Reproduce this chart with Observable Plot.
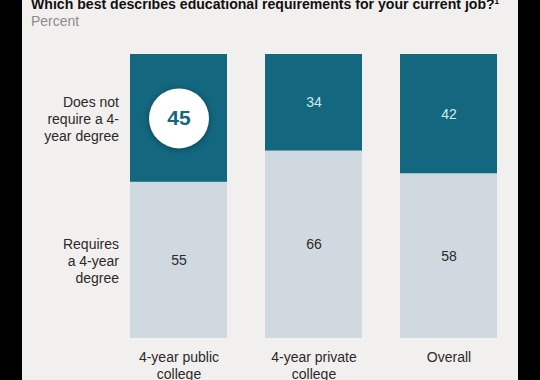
<!DOCTYPE html>
<html>
<head>
<meta charset="utf-8">
<script src="https://cdn.jsdelivr.net/npm/d3@7"></script>
<script src="https://cdn.jsdelivr.net/npm/@observablehq/plot@0.6"></script>
<style>
  html, body { margin: 0; padding: 0; background: #000; width: 540px; height: 380px; overflow: hidden; }
  #panel { position: absolute; left: 22px; top: 0; width: 496px; height: 380px; background: #f1f0ee; overflow: hidden;
           font-family: "Liberation Sans", Arial, Helvetica, sans-serif; }
  #title { position: absolute; left: 9px; top: -4px; font-size: 14.1px; line-height: 16px; font-weight: bold; color: #111; white-space: nowrap; }
  #subtitle { position: absolute; left: 9px; top: 13px; font-size: 14px; line-height: 16px; color: #8c8c8c; }
  #chart { position: absolute; left: 0; top: 30px; }
  .hl circle { filter: drop-shadow(0 1px 3px rgba(0,0,0,0.35)); }
</style>
</head>
<body>
<div id="panel">
  <div id="title">Which best describes educational requirements for your current job?¹</div>
  <div id="subtitle">Percent</div>
  <div id="chart"></div>
</div>
<script>
const categories = ["4-year public college", "4-year private college", "Overall"];
const categoryLabels = ["4-year public\ncollege", "4-year private\ncollege", "Overall"];
const seriesNames = ["Requires a 4-year degree", "Does not require a 4-year degree"];
const seriesLabels = ["Requires\na 4-year\ndegree", "Does not\nrequire a 4-\nyear degree"];
const requiresDegree = [55, 66, 58];
const doesNotRequire = [45, 34, 42];
const highlightCategory = "4-year public college";

const DARK = "#13677f";
const LIGHT = "#cfd9df";

const rows = [];
categories.forEach((c, i) => {
  rows.push({category: c, series: seriesNames[0], value: requiresDegree[i], y1: 0, y2: requiresDegree[i]});
  rows.push({category: c, series: seriesNames[1], value: doesNotRequire[i], y1: requiresDegree[i], y2: requiresDegree[i] + doesNotRequire[i]});
});
rows.forEach(d => d.mid = (d.y1 + d.y2) / 2);

const isHighlight = d => d.category === highlightCategory && d.series === seriesNames[1];
const plainLabels = rows.filter(d => !isHighlight(d));
const highlightRows = rows.filter(isHighlight);
const sideLabels = rows.filter(d => d.category === categories[0]).map(d => ({...d, label: seriesLabels[seriesNames.indexOf(d.series)]}));

const chart = Plot.plot({
  width: 496,
  height: 350,
  marginTop: 24,
  marginBottom: 42,
  marginLeft: 108,
  marginRight: 21,
  style: {background: "transparent", fontFamily: "'Liberation Sans', Arial, Helvetica, sans-serif", fontSize: "14px", color: "#222"},
  x: {domain: categories, paddingInner: 0.285, paddingOuter: 0},
  y: {domain: [0, 100], axis: null},
  color: {domain: seriesNames, range: [LIGHT, DARK]},
  marks: [
    Plot.barY(rows, {x: "category", y1: "y1", y2: "y2", fill: "series"}),
    Plot.text(plainLabels, {
      x: "category", y: "mid", text: d => String(d.value), fontSize: 14,
      fill: d => d.series === seriesNames[1] ? "#d5e6ec" : "#2a2a2a"
    }),
    Plot.dot(highlightRows, {x: "category", y: "mid", r: 30, fill: "white", stroke: "none", className: "hl"}),
    Plot.text(highlightRows, {x: "category", y: "mid", text: d => String(d.value), fontSize: 21, fontWeight: "bold", fill: DARK}),
    Plot.text(sideLabels, {
      x: "category", y: "mid", text: "label", textAnchor: "end", dx: -60, fontSize: 14, lineHeight: 1.2, fill: "#2a2a2a"
    }),
    Plot.axisX({
      tickSize: 0, tickPadding: 12, fontSize: 14, color: "#2a2a2a",
      tickFormat: d => categoryLabels[categories.indexOf(d)], label: null, lineHeight: 1.2
    })
  ]
});
document.getElementById("chart").appendChild(chart);
</script>
</body>
</html>
